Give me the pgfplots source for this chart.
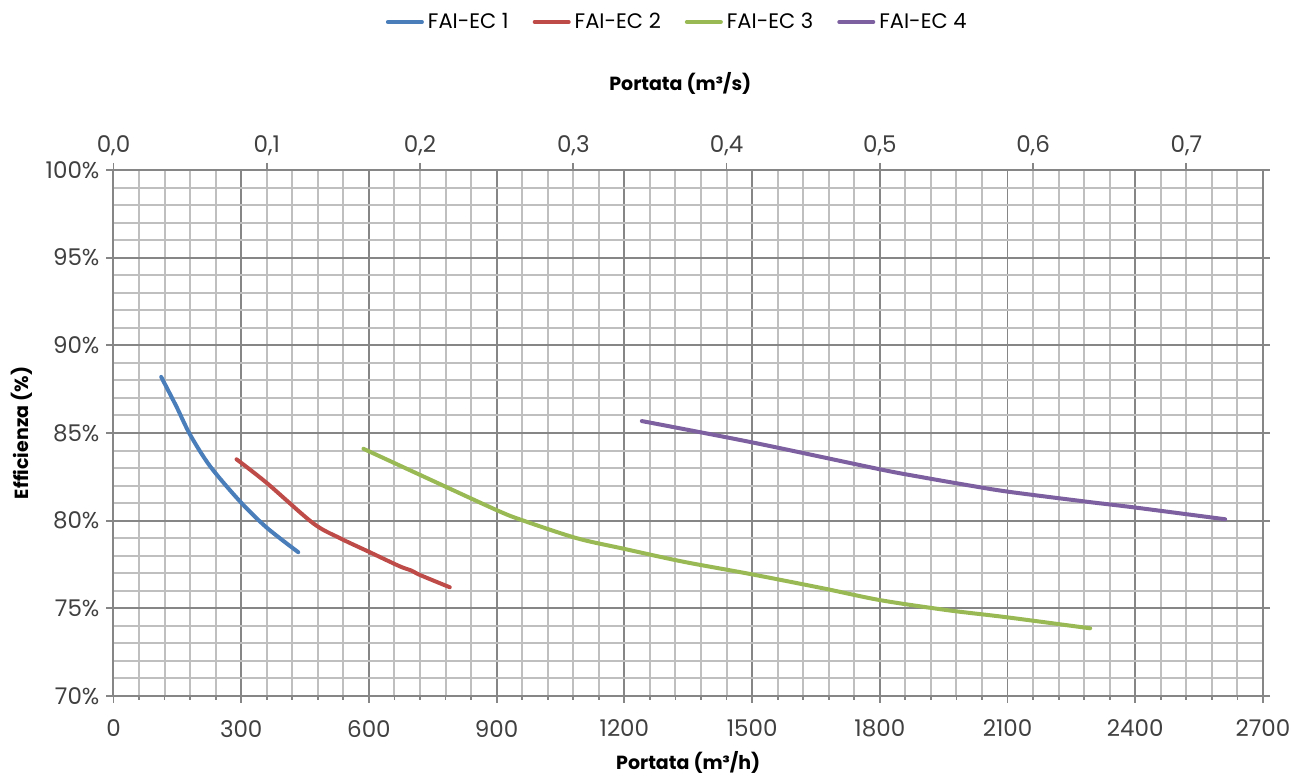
\documentclass[border=0pt]{standalone}
\usepackage{fontspec}
\setmainfont{Poppins}
\usepackage{pgfplots}
\pgfplotsset{compat=1.18}
\definecolor{gmaj}{HTML}{868686}
\definecolor{gmin}{HTML}{BFBFBF}
\definecolor{cblue}{HTML}{4A7EBB}
\definecolor{cred}{HTML}{BE4B48}
\definecolor{cgreen}{HTML}{98B954}
\definecolor{cpurple}{HTML}{7D60A0}
\definecolor{txt}{HTML}{404040}
\begin{document}
\begin{tikzpicture}[font=\fontsize{10.5}{12}\selectfont]
\begin{axis}[
  width=574.75pt, height=263pt, scale only axis,
  xmin=0, xmax=2700, ymin=70, ymax=100,
  xtick={0,300,...,2700}, minor x tick num=4,
  ytick={70,75,...,100}, minor y tick num=4,
  grid=both,
  major grid style={color=gmaj, line width=0.9pt},
  minor grid style={color=gmin, line width=1pt},
  axis line style={color=gmaj, line width=1pt},
  tick align=outside, xtick pos=bottom, ytick pos=both,
  major tick length=3.5pt, minor tick length=2pt,
  tick style={color=gmaj, line width=0.9pt},
  minor y tick style={draw=none},
  /pgf/number format/assume math mode=true,
  /pgf/number format/1000 sep={},
  ticklabel style={color=txt, font=\fontsize{11.5}{13}\selectfont},
  xticklabel style={yshift=-5pt},
  yticklabel={\pgfmathprintnumber{\tick}\%},
  xlabel={\bfseries Portata (m³/h)},
  xlabel style={at={(axis description cs:0.5,0)}, anchor=center, yshift=-33pt, font=\fontsize{9.5}{11}\selectfont},
  ylabel={\bfseries Efficienza (\%)},
  ylabel style={at={(axis description cs:-0.0796,0.5)}, anchor=center, font=\fontsize{9.5}{11}\selectfont},
  legend style={at={(axis description cs:0.5,1)}, anchor=center, xshift=-5pt, yshift=74pt,
    draw=none, fill=none, legend columns=4, font=\fontsize{10.5}{12}\selectfont,
    /tikz/every even column/.append style={column sep=10pt}},
  legend image code/.code={\draw[#1, line width=2pt, line cap=round] (0pt,0pt) -- (17pt,0pt);},
  every axis plot/.append style={line width=2pt, line cap=round, smooth},
]
\addplot[cblue] coordinates {(112,88.2) (148,86.5) (180,84.9) (227,83.1) (297,81.1) (360,79.6) (434,78.2)};
\addlegendentry{FAI-EC 1}
\addplot[cred] coordinates {(289,83.5) (360,82.15) (469,79.85) (532,79.0) (602,78.2) (672,77.4) (700,77.15) (720,76.9) (790,76.2)};
\addlegendentry{FAI-EC 2}
\addplot[cgreen] coordinates {(587,84.1) (712,82.7) (900,80.6) (963,80.0) (1088,79.0) (1198,78.4) (1338,77.66) (1495,76.96) (1667,76.14) (1800,75.47) (1957,74.9) (2098,74.49) (2294,73.86)};
\addlegendentry{FAI-EC 3}
\addplot[cpurple] coordinates {(1241,85.68) (1503,84.45) (1800,82.93) (1894,82.5) (2012,82.0) (2102,81.65) (2286,81.08) (2396,80.76) (2611,80.08)};
\addlegendentry{FAI-EC 4}
\end{axis}
\begin{axis}[
  width=574.75pt, height=263pt, scale only axis,
  xmin=0, xmax=0.75, ymin=70, ymax=100,
  axis x line*=top, hide y axis,
  xtick={0,0.1,...,0.7},
  tick align=outside, major tick length=3.5pt,
  axis line style={color=gmaj, line width=1pt},
  tick style={color=gmaj, line width=0.9pt},
  /pgf/number format/assume math mode=true,
  xticklabel style={color=txt, font=\fontsize{11.5}{13}\selectfont, /pgf/number format/.cd, use comma, fixed, fixed zerofill, precision=1},
  xlabel={\bfseries Portata (m³/s)},
  xlabel style={at={(axis description cs:0.5,1)}, anchor=center, yshift=43.5pt, xshift=-4pt, font=\fontsize{9.5}{11}\selectfont},
]
\end{axis}
\pgfresetboundingbox
\useasboundingbox (-56.75pt,-39.5pt) rectangle (591.75pt,348pt);
\end{tikzpicture}
\end{document}
